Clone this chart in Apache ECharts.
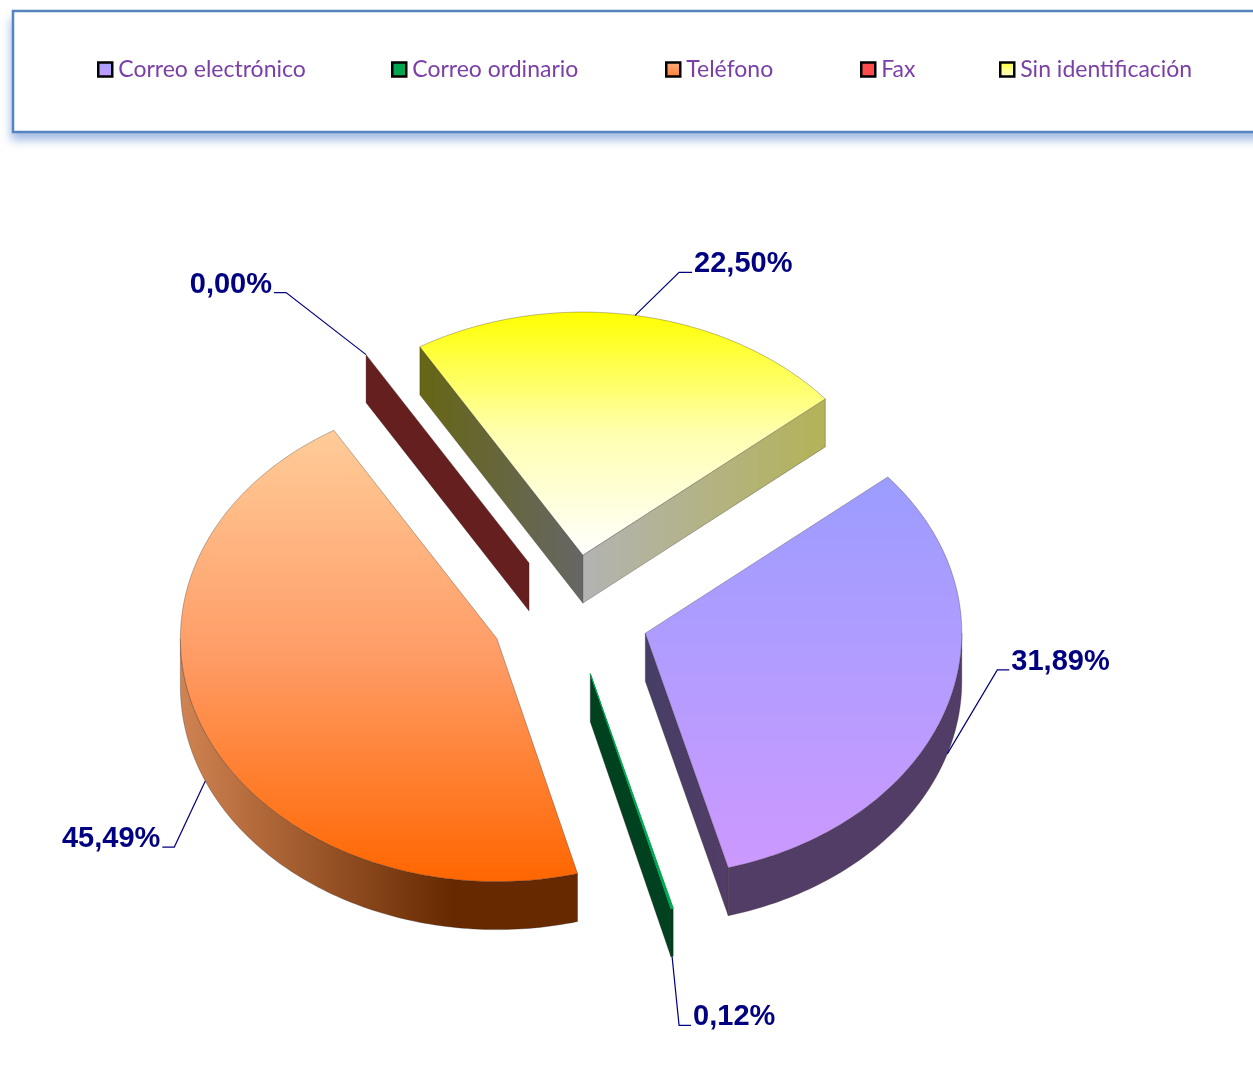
<!DOCTYPE html>
<html>
<head>
<meta charset="utf-8">
<title>Canales</title>
<script src="https://cdn.jsdelivr.net/npm/echarts@6/dist/echarts.min.js"></script>
<style>
  html, body { margin: 0; padding: 0; background: #fff; }
  #chart { width: 1253px; height: 1078px; }
</style>
</head>
<body>
<div id="chart"></div>
<script>
// data
const categories = ['Correo electrónico', 'Correo ordinario', 'Teléfono', 'Fax', 'Sin identificación']
const shares = [31.89, 0.12, 45.49, 0, 22.5]

// colours of each slice: top, middle and bottom of the face
const faceTop = ['#9c9cff', '#00a651', '#ffcc99', '#ff4d4d', '#ffff00']
const faceMid = ['#b49cff', '#00a651', '#ff9c66', '#ff4d4d', '#ffffb0']
const faceBottom = ['#cc99ff', '#00a651', '#ff6600', '#ff4d4d', '#ffffff']
const swatchTop = ['#a6a0ff', '#00a651', '#ffb080', '#ff4d4d', '#ffff33']
const swatchBottom = ['#c49bff', '#00a651', '#ff7d33', '#ff4d4d', '#ffffdd']

// label layout: elbow offset from the rim point, then the short horizontal run
const elbowOffset = [[50, -84], [7, 69], [-31, 66], [-80, -62], [44, -43]]
const elbowRun = [12, 12, -12, -12, 13]
const legendLeft = [97, 391, 665, 860, 999]

// pie geometry
const cx = 569.8
const cy = 615
const rx = 316.5
const ry = 243
const depth = 48
const explode = 0.25
const startAngle = 40

const rad = d => d * Math.PI / 180

function hexRgb(c) {
  return [1, 3, 5].map(i => parseInt(c.slice(i, i + 2), 16))
}
// colour of slice i at height t on its face, darkened by f
function faceShade(i, t, f) {
  const from = t < 0.5 ? faceTop[i] : faceMid[i]
  const to = t < 0.5 ? faceMid[i] : faceBottom[i]
  const u = t < 0.5 ? t * 2 : (t - 0.5) * 2
  const ca = hexRgb(from), cb = hexRgb(to)
  const out = ca.map((v, k) => Math.round((v + (cb[k] - v) * u) * f))
  return 'rgb(' + out.join(',') + ')'
}

function renderSlice(params, api) {
  const i = params.seriesIndex
  const value = api.value(0)
  let before = 0
  for (let k = 0; k < i; k++) before += shares[k]
  const a0 = startAngle - before * 3.6
  const a1 = a0 - value * 3.6
  const mid = (a0 + a1) / 2
  const ax = cx + explode * rx * Math.cos(rad(mid))
  const ay = cy - explode * ry * Math.sin(rad(mid))
  const rim = deg => [ax + rx * Math.cos(rad(deg)), ay - ry * Math.sin(rad(deg))]
  const arc = (from, to) => {
    const pts = []
    for (let d = from; d > to; d -= 1) pts.push(rim(d))
    pts.push(rim(to))
    return pts
  }

  const facePts = [[ax, ay]].concat(arc(a0, a1))
  const ys = facePts.map(p => p[1])
  const minY = Math.min.apply(null, ys)
  const maxY = Math.max.apply(null, ys)
  const tAt = y => (maxY - minY < 1 ? 0 : (y - minY) / (maxY - minY))
  const children = []
  const edge = 'rgba(40,30,30,0.5)'

  // outer wall, only the front half of the ellipse can show
  const o0 = Math.min(a0, 0)
  const o1 = Math.max(a1, -180)
  if (o0 > o1) {
    const top = arc(o0, o1)
    const bottom = top.map(p => [p[0], p[1] + depth]).reverse()
    const pts = top.concat(bottom)
    let fill = faceShade(i, 1, 0.4)
    if (i === 2) {
      fill = {
        type: 'linear', x: 181, y: 0, x2: 578, y2: 0, global: true,
        colorStops: [
          { offset: 0, color: '#d08352' },
          { offset: 0.685, color: '#662900' },
          { offset: 1, color: '#662900' }
        ]
      }
    }
    children.push({ type: 'polygon', shape: { points: pts }, style: { fill: fill, stroke: edge, lineWidth: 0.6 } })
  }

  // radial walls, skipped when they sit behind the face
  const wall = (deg, isStart) => {
    const r = rim(deg)
    const ex = r[0] - ax, ey = r[1] - ay
    if (isStart ? ex >= 0 : ex <= 0) return
    const f = !isStart && ey < 0 ? 0.7 : 0.4
    children.push({
      type: 'polygon',
      shape: { points: [[ax, ay], r, [r[0], r[1] + depth], [ax, ay + depth]] },
      style: {
        fill: {
          type: 'linear', x: r[0], y: 0, x2: ax, y2: 0, global: true,
          colorStops: [
            { offset: 0, color: faceShade(i, tAt(r[1]), f) },
            { offset: 1, color: faceShade(i, tAt(ay), f) }
          ]
        },
        stroke: edge,
        lineWidth: 0.6
      }
    })
  }
  wall(a0, true)
  wall(a1, false)

  // top face
  if (value > 0) {
    children.push({
      type: 'polygon',
      shape: { points: facePts },
      style: {
        fill: {
          type: 'linear', x: 0, y: minY, x2: 0, y2: maxY, global: true,
          colorStops: [
            { offset: 0, color: faceTop[i] },
            { offset: 0.5, color: faceMid[i] },
            { offset: 1, color: faceBottom[i] }
          ]
        },
        stroke: value < 1 ? faceTop[i] : edge,
        lineWidth: value < 1 ? 1 : 0.6
      }
    })
  }

  // leader line and label
  const m = rim(mid)
  const start = [m[0], m[1] + (Math.sin(rad(mid)) < 0 ? depth : 0)]
  const elbow = [start[0] + elbowOffset[i][0], start[1] + elbowOffset[i][1]]
  const end = [elbow[0] + elbowRun[i], elbow[1]]
  children.push({
    type: 'polyline',
    shape: { points: [start, elbow, end] },
    style: { fill: 'none', stroke: '#000080', lineWidth: 1.2 }
  })
  children.push({
    type: 'text',
    x: end[0] + (elbowRun[i] > 0 ? 2 : -2),
    y: end[1] - 8,
    style: {
      text: value.toFixed(2).replace('.', ',') + '%',
      fill: '#000080',
      font: 'bold 29px "Liberation Sans", Arial, sans-serif',
      align: elbowRun[i] > 0 ? 'left' : 'right',
      verticalAlign: 'middle'
    }
  })

  return { type: 'group', children: children }
}

const chart = echarts.init(document.getElementById('chart'), null, { renderer: 'canvas' })

chart.setOption({
  animation: false,
  graphic: [
    {
      // shadow sits on its own rect so the border does not cast one inside the box
      type: 'rect',
      z: 0,
      shape: { x: 13, y: 11, width: 1300, height: 121 },
      style: {
        fill: '#fff',
        shadowBlur: 9,
        shadowOffsetX: -2,
        shadowOffsetY: 8,
        shadowColor: 'rgba(70,120,200,0.5)'
      }
    },
    {
      type: 'rect',
      z: 1,
      shape: { x: 13, y: 11, width: 1300, height: 121 },
      style: { fill: '#fff', stroke: '#5585c0', lineWidth: 2.5 }
    }
  ],
  legend: categories.map((name, i) => ({
    left: legendLeft[i],
    top: 58,
    padding: 0,
    itemWidth: 14,
    itemHeight: 14,
    itemGap: 0,
    icon: 'rect',
    selectedMode: false,
    textStyle: {
      color: '#7b3fa8',
      fontFamily: 'Lato',
      fontSize: 23,
      padding: [0, 0, 0, 1]
    },
    data: [{
      name: name,
      itemStyle: {
        borderColor: '#000',
        borderWidth: 2.5,
        color: {
          type: 'linear', x: 0, y: 0, x2: 0, y2: 1,
          colorStops: [{ offset: 0, color: swatchTop[i] }, { offset: 1, color: swatchBottom[i] }]
        }
      }
    }]
  })),
  series: categories.map((name, i) => ({
    name: name,
    type: 'custom',
    coordinateSystem: 'none',
    renderItem: renderSlice,
    itemStyle: { color: faceBottom[i] },
    data: [[shares[i]]]
  }))
})

window.addEventListener('resize', () => chart.resize())
</script>
</body>
</html>
